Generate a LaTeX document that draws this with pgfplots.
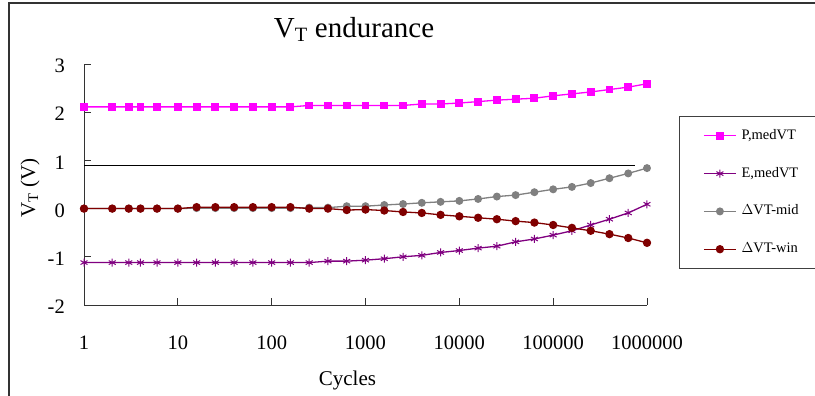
\documentclass[border=0pt]{standalone}
\usepackage{fontspec}
\setmainfont{Liberation Serif}
\usepackage{pgfplots}
\pgfplotsset{compat=1.18}
\definecolor{cP}{RGB}{255,0,255}
\definecolor{cE}{RGB}{128,0,128}
\definecolor{cM}{RGB}{128,128,128}
\definecolor{cW}{RGB}{128,0,0}
\begin{document}
\begin{tikzpicture}[x=1pt,y=1pt]
\useasboundingbox (0,0) rectangle (815,396);
\draw[line width=1.6pt, black!80] (9,-2) -- (9,393) -- (818,393);
\begin{axis}[
  at={(84pt,91pt)}, anchor=south west,
  scale only axis, width=563pt, height=241pt,
  xmode=log, log basis x=10,
  xmin=1, xmax=1000000, ymin=-2, ymax=3,
  axis x line*=bottom, axis y line*=left,
  axis line style={black!80, line width=0.8pt},
  tick align=inside, major tick length=7pt,
  tick style={black!80, line width=0.8pt},
  xminorticks=false,
  xtick={1,10,100,1000,10000,100000,1000000},
  xticklabels={1,10,100,1000,10000,100000,1000000},
  ytick={-2,-1,0,1,2,3},
  yticklabels={-2,-1,0,1,2,3},
  xticklabel style={font=\fontsize{20.5}{22}\selectfont, anchor=base, inner sep=0pt, yshift=-45pt},
  yticklabel style={font=\fontsize{20.5}{22}\selectfont, anchor=east, inner sep=0pt, xshift=-19pt, yshift=-2pt},
  title={V\textsubscript{T} endurance},
  title style={at={(axis description cs:0.4796,1.087)}, anchor=base, font=\fontsize{29}{32}\selectfont, inner sep=0pt},
  xlabel={Cycles},
  xlabel style={at={(axis description cs:0.468,-0.332)}, anchor=base, font=\fontsize{21}{24}\selectfont, inner sep=0pt},
  ylabel={V\textsubscript{T} (V)},
  ylabel style={at={(axis description cs:-0.087,0.4855)}, anchor=base, rotate=0, font=\fontsize{21}{24}\selectfont, inner sep=0pt},
  legend style={at={(axis description cs:1.0568,0.7842)}, anchor=north west,
    draw=black!75, line width=0.6pt, inner xsep=24pt, inner ysep=13pt,
    font=\fontsize{14.5}{16}\selectfont, row sep=24.8pt, column sep=5pt,
    nodes={inner sep=0pt, text height=10pt, text depth=3pt}},
  legend cell align=left,
  legend image code/.code={\draw[mark repeat=2,mark phase=2,#1] plot coordinates {(0pt,0pt) (16pt,0pt) (32pt,0pt)};},
]
\addplot[cP, line width=1.3pt, mark=square*, mark size=3.3pt, mark options={solid}] coordinates {
(1,2.11) (2,2.11) (3,2.11) (4,2.11) (6,2.11) (10,2.11) (15.85,2.11) (25.12,2.11) (39.81,2.11) (63.1,2.11) (100,2.11) (158.5,2.11)
(251.2,2.14) (398.1,2.14) (631,2.14) (1000,2.14) (1585,2.14) (2512,2.14) (3981,2.17) (6310,2.17) (10000,2.19)
(15850,2.22) (25120,2.25) (39810,2.27) (63100,2.29) (100000,2.34) (158500,2.38) (251200,2.42) (398100,2.47) (631000,2.52) (1000000,2.59)};
\addlegendentry{P,medVT}
\addplot[cE, line width=1.3pt, mark=asterisk, mark size=4pt, mark options={solid, line width=1pt}] coordinates {
(1,-1.12) (2,-1.12) (3,-1.12) (4,-1.12) (6,-1.12) (10,-1.12) (15.85,-1.12) (25.12,-1.12) (39.81,-1.12) (63.1,-1.12) (100,-1.12) (158.5,-1.12)
(251.2,-1.12) (398.1,-1.09) (631,-1.09) (1000,-1.07) (1585,-1.04) (2512,-1.0) (3981,-0.97) (6310,-0.91) (10000,-0.87)
(15850,-0.82) (25120,-0.78) (39810,-0.69) (63100,-0.63) (100000,-0.55) (158500,-0.46) (251200,-0.34) (398100,-0.22) (631000,-0.09) (1000000,0.09)};
\addlegendentry{E,medVT}
\addplot[cM, line width=1.3pt, mark=*, mark size=3.3pt, mark options={solid}] coordinates {
(1,0) (2,0) (3,0) (4,0) (6,0) (10,0) (15.85,0.01) (25.12,0.01) (39.81,0.01) (63.1,0.01) (100,0.01) (158.5,0.01)
(251.2,0.02) (398.1,0.02) (631,0.05) (1000,0.05) (1585,0.075) (2512,0.095) (3981,0.12) (6310,0.14) (10000,0.16)
(15850,0.2) (25120,0.25) (39810,0.28) (63100,0.34) (100000,0.40) (158500,0.45) (251200,0.53) (398100,0.63) (631000,0.73) (1000000,0.84)};
\addlegendentry{$\Delta$VT-mid}
\addplot[cW, line width=1.3pt, mark=*, mark size=3.5pt, mark options={solid}] coordinates {
(1,0) (2,0) (3,0) (4,0) (6,0) (10,0) (15.85,0.03) (25.12,0.03) (39.81,0.03) (63.1,0.03) (100,0.03) (158.5,0.03)
(251.2,0.0) (398.1,0.0) (631,-0.03) (1000,-0.02) (1585,-0.04) (2512,-0.07) (3981,-0.09) (6310,-0.13) (10000,-0.16)
(15850,-0.19) (25120,-0.22) (39810,-0.26) (63100,-0.29) (100000,-0.34) (158500,-0.40) (251200,-0.46) (398100,-0.53) (631000,-0.61) (1000000,-0.71)};
\addlegendentry{$\Delta$VT-win}
\addplot[black, line width=1pt, forget plot] coordinates {(1,0.9) (745000,0.9)};
\end{axis}
\end{tikzpicture}
\end{document}
